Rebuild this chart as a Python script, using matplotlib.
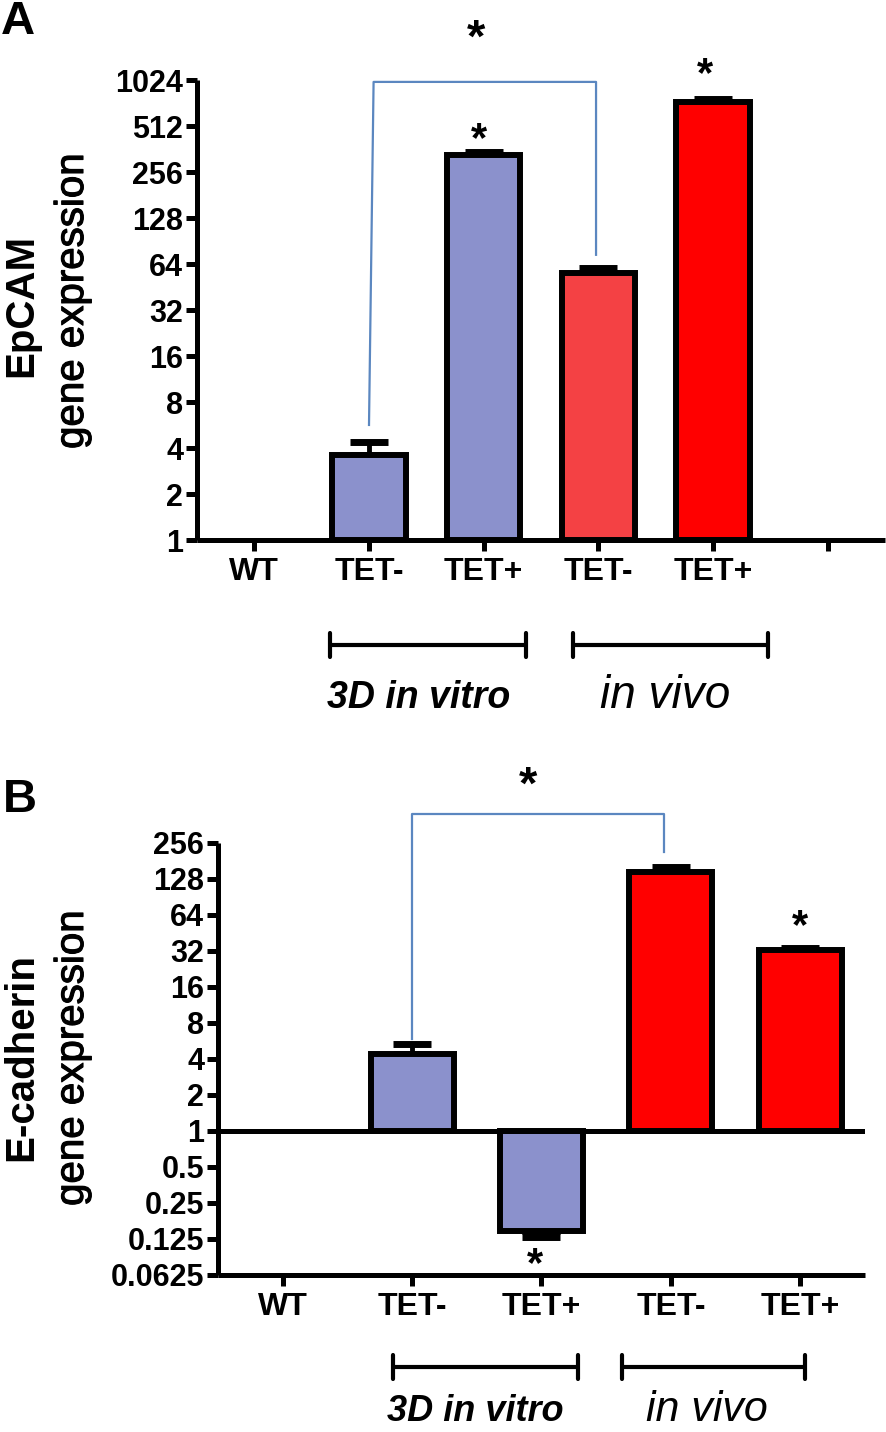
import matplotlib
matplotlib.use('Agg')
import matplotlib.pyplot as plt
from matplotlib.transforms import blended_transform_factory
from matplotlib.ticker import NullLocator
import matplotlib.patheffects as pe

W, H, DPI = 887, 1432, 100
plt.rcParams['font.family'] = ['Liberation Sans', 'DejaVu Sans']

# ---------------- data ----------------
a_labels = ['WT', 'TET-', 'TET+', 'TET-', 'TET+', '']
a_values = [1.0, 3.6, 330.0, 56.0, 730.0]
a_err_up = [0.0, 0.8, 15.0, 4.0, 40.0]
a_colors = ['#8B91CC', '#8B91CC', '#8B91CC', '#F44144', '#FF0000']
a_yticks = [1, 2, 4, 8, 16, 32, 64, 128, 256, 512, 1024]
a_yticklabels = ['1', '2', '4', '8', '16', '32', '64', '128', '256', '512', '1024']

b_labels = ['WT', 'TET-', 'TET+', 'TET-', 'TET+']
b_values = [1.0, 4.4, 0.146, 146.0, 32.5]
b_err = [0.0, 0.9, 0.016, 15.0, 1.5]
b_colors = ['#8B91CC', '#8B91CC', '#8B91CC', '#FF0000', '#FF0000']
b_yticks = [0.0625, 0.125, 0.25, 0.5, 1, 2, 4, 8, 16, 32, 64, 128, 256]
b_yticklabels = ['0.0625', '0.125', '0.25', '0.5', '1', '2', '4', '8', '16',
                 '32', '64', '128', '256']

group_names = ['3D in vitro', 'in vivo']

BLUE = '#5B87C0'
EDGE_LW = 4.3
SPINE_LW = 3.6

fig = plt.figure(figsize=(W / DPI, H / DPI), dpi=DPI)
medium = [pe.withStroke(linewidth=0.8, foreground='k')]


def fy(py):
    return 1 - py / H


def make_axes(left, right, top, bottom):
    ax = fig.add_axes([left / W, fy(bottom), (right - left) / W, (bottom - top) / H])
    ax.set_yscale('log', base=2)
    for s in ['top', 'right']:
        ax.spines[s].set_visible(False)
    for s in ['left', 'bottom']:
        ax.spines[s].set_linewidth(SPINE_LW)
        ax.spines[s].set_capstyle('butt')
    ax.tick_params(axis='both', which='major', length=8, width=SPINE_LW, color='k')
    ax.tick_params(axis='y', labelsize=22, pad=2)
    ax.tick_params(axis='x', labelsize=23, pad=4)
    ax.yaxis.set_minor_locator(NullLocator())
    return ax


def draw_bars(ax, values, errs, colors):
    for i, (v, e, c) in enumerate(zip(values, errs, colors)):
        if v == 1.0:
            continue
        ax.bar(i, v - 1, bottom=1, width=0.64, color=c, edgecolor='k',
               linewidth=EDGE_LW, zorder=3)
        if v > 1:
            yerr = [[0], [e]]
        else:
            yerr = [[e], [0]]
        ax.errorbar(i, v, yerr=yerr, fmt='none', ecolor='k', elinewidth=3.5,
                    capsize=14, capthick=5, zorder=2)


def star(ax, x, py, size=30):
    trans = blended_transform_factory(ax.transData, fig.transFigure)
    ax.text(x, fy(py), '*', transform=trans, ha='center', va='center',
            fontsize=size, fontweight='bold', clip_on=False)


def group_bracket(ax, x0, x1, py, text, tx, base_py, style, size):
    trans = blended_transform_factory(ax.transData, fig.transFigure)
    ax.plot([x0, x1], [fy(py), fy(py)], color='k', lw=3, transform=trans,
            clip_on=False, solid_capstyle='butt')
    for x in (x0, x1):
        ax.plot([x, x], [fy(py - 12), fy(py + 12)], color='k', lw=3,
                transform=trans, clip_on=False, solid_capstyle='round')
    ax.text(tx, fy(base_py), text, transform=trans, ha='center', va='baseline',
            fontsize=size, clip_on=False, **style)


# ---------------- Panel A ----------------
axA = make_axes(197, 885, 80, 540)
axA.set_ylim(1, 1024)
axA.set_xlim(-0.5, 5.5)
axA.set_yticks(a_yticks)
axA.set_yticklabels(a_yticklabels, fontweight='bold')
axA.set_xticks(range(len(a_labels)))
axA.set_xticklabels(a_labels, fontweight='bold')
draw_bars(axA, a_values, a_err_up, a_colors)

# significance bracket
axA.plot([1.0, 1.04, 2.98, 2.98], [5.66, 995, 995, 73.5], color=BLUE, lw=1.6,
         clip_on=False, zorder=4)
star(axA, 1.93, 40, 34)
star(axA, 1.96, 140)
star(axA, 3.93, 75)

group_bracket(axA, 0.66, 2.37, 645, group_names[0], 1.43, 708,
              dict(fontweight='bold', fontstyle='italic'), 27)
group_bracket(axA, 2.78, 4.48, 645, group_names[1], 3.58, 708,
              dict(fontstyle='italic'), 33)

fig.text(21 / W, fy(305), 'EpCAM', rotation=90, ha='center', va='center',
         fontsize=29, fontweight='bold')
fig.text(72 / W, fy(301), 'gene expression', rotation=90, ha='center',
         va='center', fontsize=29, path_effects=medium)
fig.text(18 / W, fy(22), 'A', ha='center', va='center', fontsize=34,
         fontweight='bold')

# ---------------- Panel B ----------------
axB = make_axes(218, 865, 843, 1275)
axB.set_ylim(0.0625, 256)
axB.set_xlim(-0.5, 4.5)
axB.set_yticks(b_yticks)
axB.set_yticklabels(b_yticklabels, fontweight='bold')
axB.set_xticks(range(len(b_labels)))
axB.set_xticklabels(b_labels, fontweight='bold')
axB.axhline(1, color='k', lw=SPINE_LW, zorder=4)
draw_bars(axB, b_values, b_err, b_colors)

axB.plot([1.0, 1.0, 2.95, 2.95], [5.9, 446, 446, 215], color=BLUE, lw=1.6,
         clip_on=False, zorder=4)
star(axB, 1.9, 787, 34)
star(axB, 1.95, 1265)
star(axB, 4.0, 927)

group_bracket(axB, 0.85, 2.28, 1367, group_names[0], 1.49, 1421,
              dict(fontweight='bold', fontstyle='italic'), 26)
group_bracket(axB, 2.62, 4.04, 1367, group_names[1], 3.28, 1421,
              dict(fontstyle='italic'), 31)

fig.text(21 / W, fy(1057), 'E-cadherin', rotation=90, ha='center', va='center',
         fontsize=29, fontweight='bold')
fig.text(72 / W, fy(1058), 'gene expression', rotation=90, ha='center',
         va='center', fontsize=29, path_effects=medium)
fig.text(20 / W, fy(800), 'B', ha='center', va='center', fontsize=34,
         fontweight='bold')

fig.savefig('out.png', dpi=DPI)
